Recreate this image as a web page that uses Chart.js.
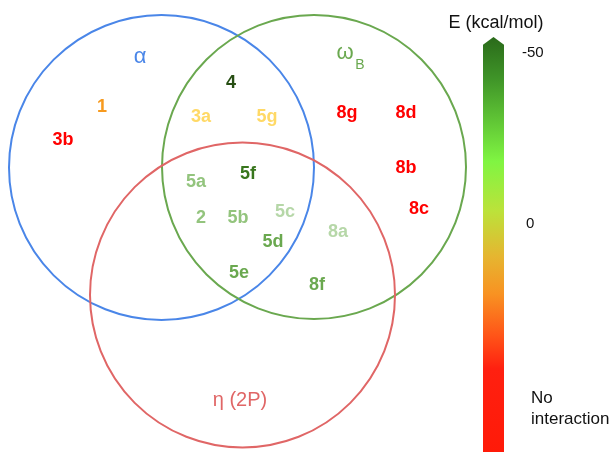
<!DOCTYPE html>
<html>
<head>
<meta charset="utf-8">
<script src="https://cdn.jsdelivr.net/npm/chart.js@4/dist/chart.umd.min.js"></script>
<style>
  html, body { margin: 0; padding: 0; background: #fff; }
  #myChart { display: block; }
</style>
</head>
<body>
<canvas id="myChart" width="615" height="452"></canvas>
<script>
// venn sets (centre + radius in picture units)
const setNames = ['α', 'ω', 'η (2P)'];
const setX = [161.5, 314, 242.5];
const setY = [167.5, 167, 295];
const setR = [152.5, 152, 152.5];
const setLabelX = [140, 345, 240];
const setLabelY = [57, 53, 400];

// compounds placed in the diagram
const compounds = ['1', '3b', '4', '3a', '5g', '5f', '5a', '2', '5b', '5c', '5d', '5e', '8a', '8f', '8g', '8d', '8b', '8c'];
const compX = [102, 63, 231, 201, 267, 248, 196, 201, 238, 285, 273, 239, 338, 317, 347, 406, 406, 419];
const compY = [107, 140, 83, 117, 117, 174, 182, 218, 218, 212, 242, 273, 232, 285, 113, 113, 168, 209];

// colour bar ticks
const cbLabels = ['-50', '0', 'No interaction'];
const cbValues = [-50, 0, 50];

const setColors = ['#4a86e8', '#6aa84f', '#e06666'];
const compColors = ['#f79a1e', '#ff0000', '#274e13', '#ffd966', '#ffd966', '#38761d', '#93c47d', '#93c47d', '#93c47d',
  '#b6d7a8', '#6aa84f', '#6aa84f', '#b6d7a8', '#6aa84f', '#ff0000', '#ff0000', '#ff0000', '#ff0000'];

const FONT = '"Liberation Sans", Arial, sans-serif';

const textPlugin = {
  id: 'texts',
  afterDatasetsDraw(chart) {
    const ctx = chart.ctx;
    ctx.save();
    ctx.textAlign = 'center';
    ctx.textBaseline = 'middle';

    // set names
    const m1 = chart.getDatasetMeta(1);
    m1.data.forEach((pt, i) => {
      ctx.fillStyle = setColors[i];
      ctx.font = (i == 2 ? '20px ' : '22px ') + FONT;
      ctx.fillText(setNames[i], pt.x, pt.y);
      if (i == 1) {
        ctx.font = '14px ' + FONT;
        ctx.fillText('B', pt.x + 15, pt.y + 12);
      }
    });

    // compound labels
    const m2 = chart.getDatasetMeta(2);
    ctx.font = 'bold 18px ' + FONT;
    m2.data.forEach((pt, i) => {
      ctx.fillStyle = compColors[i];
      ctx.fillText(compounds[i], pt.x, pt.y);
    });

    // colour bar (arrow head above -50)
    const cb = chart.scales.cb;
    const x0 = 483, x1 = 504;
    const top = cb.getPixelForValue(-54.7), shoulder = cb.getPixelForValue(-52.4);
    const g = ctx.createLinearGradient(0, top, 0, chart.height);
    g.addColorStop(0, '#2a6a1a');
    g.addColorStop(0.1, '#3f9428');
    g.addColorStop(0.3, '#80f542');
    g.addColorStop(0.42, '#bce23a');
    g.addColorStop(0.53, '#e6b530');
    g.addColorStop(0.62, '#f89222');
    g.addColorStop(0.72, '#ff5418');
    g.addColorStop(0.8, '#ff2010');
    g.addColorStop(1, '#ff1a08');
    ctx.fillStyle = g;
    ctx.beginPath();
    ctx.moveTo((x0 + x1) / 2, top);
    ctx.lineTo(x1, shoulder);
    ctx.lineTo(x1, chart.height);
    ctx.lineTo(x0, chart.height);
    ctx.lineTo(x0, shoulder);
    ctx.closePath();
    ctx.fill();

    ctx.fillStyle = '#111';
    ctx.font = '18px ' + FONT;
    ctx.fillText('E (kcal/mol)', 496, 23);
    ctx.textAlign = 'left';
    ctx.font = '15px ' + FONT;
    cbLabels.forEach((lab, i) => {
      const y = cb.getPixelForValue(cbValues[i]);
      if (lab == 'No interaction') {
        ctx.font = '17px ' + FONT;
        ctx.fillText('No', 531, y + 3);
        ctx.fillText('interaction', 531, y + 24);
      } else {
        ctx.fillText(lab, i == 0 ? 522 : 526, y);
      }
    });
    ctx.restore();
  }
};

new Chart(document.getElementById('myChart').getContext('2d'), {
  type: 'bubble',
  data: {
    datasets: [{
      label: 'sets',
      data: setX.map((x, i) => ({ x: x, y: setY[i], r: setR[i] })),
      backgroundColor: 'rgba(0,0,0,0)',
      borderColor: setColors,
      borderWidth: 2,
      clip: false
    }, {
      label: 'set names',
      type: 'scatter',
      data: setLabelX.map((x, i) => ({ x: x, y: setLabelY[i] })),
      pointRadius: 0
    }, {
      label: 'compounds',
      type: 'scatter',
      data: compX.map((x, i) => ({ x: x, y: compY[i] })),
      pointRadius: 0
    }]
  },
  options: {
    responsive: false,
    animation: false,
    layout: { padding: 0, autoPadding: false },
    plugins: { legend: { display: false }, tooltip: { enabled: false } },
    scales: {
      x: { type: 'linear', min: 0, max: 615, display: false },
      y: { type: 'linear', min: 0, max: 452, reverse: true, display: false },
      cb: { type: 'linear', min: -65.5, max: 66.7, reverse: true, display: false, position: 'right' }
    },
    elements: { point: { hoverRadius: 0 } }
  },
  plugins: [textPlugin]
});
</script>
</body>
</html>
